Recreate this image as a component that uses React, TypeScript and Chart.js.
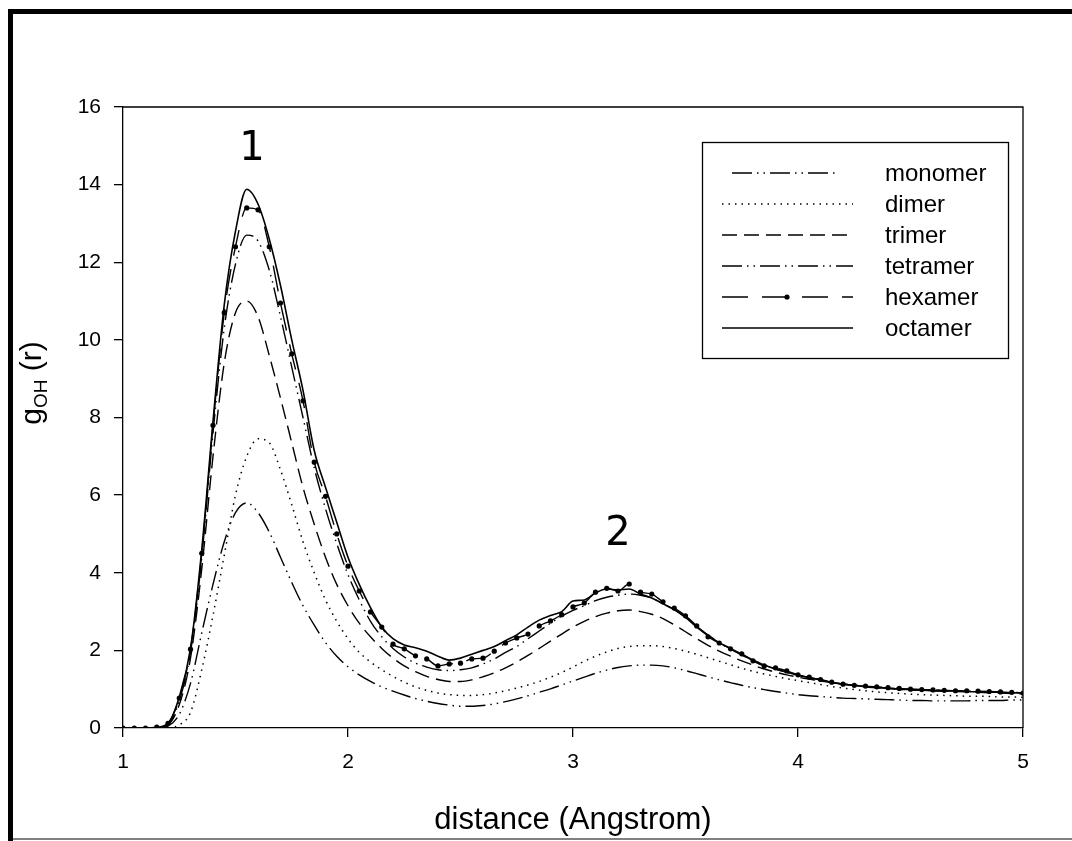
import React, { useEffect, useRef } from 'react';
import { Chart, registerables } from 'chart.js';
Chart.register(...registerables);

// distance r (Angstrom)
const R = [1.00,1.05,1.10,1.15,1.20,1.25,1.30,1.35,1.40,1.45,1.50,1.55,1.60,1.65,1.70,1.75,1.80,1.85,1.90,1.95,2.00,2.05,2.10,2.15,2.20,2.25,2.30,2.35,2.40,2.45,2.50,2.55,2.60,2.65,2.70,2.75,2.80,2.85,2.90,2.95,3.00,3.05,3.10,3.15,3.20,3.25,3.30,3.35,3.40,3.45,3.50,3.55,3.60,3.65,3.70,3.75,3.80,3.85,3.90,3.95,4.00,4.05,4.10,4.15,4.20,4.25,4.30,4.35,4.40,4.45,4.50,4.55,4.60,4.65,4.70,4.75,4.80,4.85,4.90,4.95,5.00];

const MONOMER = [0,0,0,0,0.05,0.35,1.15,2.45,3.7,4.8,5.55,5.8,5.55,5.05,4.4,3.75,3.15,2.65,2.2,1.85,1.58,1.37,1.2,1.06,0.95,0.85,0.76,0.69,0.63,0.59,0.56,0.56,0.58,0.62,0.68,0.75,0.83,0.92,1.01,1.11,1.21,1.31,1.41,1.49,1.56,1.6,1.62,1.62,1.6,1.55,1.48,1.4,1.32,1.24,1.17,1.1,1.04,0.99,0.94,0.9,0.86,0.83,0.81,0.79,0.77,0.76,0.75,0.74,0.73,0.72,0.71,0.71,0.7,0.7,0.7,0.7,0.71,0.71,0.71,0.72,0.72];

const DIMER = [0,0,0,0,0,0.08,0.4,1.5,2.9,4.45,6.0,7.0,7.45,7.35,6.65,5.75,4.8,4.0,3.3,2.75,2.3,1.95,1.7,1.5,1.33,1.18,1.06,0.97,0.9,0.86,0.84,0.84,0.86,0.9,0.96,1.03,1.11,1.2,1.31,1.43,1.57,1.72,1.85,1.96,2.05,2.1,2.12,2.12,2.1,2.05,1.98,1.9,1.81,1.72,1.63,1.54,1.46,1.39,1.33,1.27,1.22,1.17,1.12,1.07,1.03,0.99,0.96,0.93,0.91,0.89,0.87,0.86,0.85,0.84,0.83,0.82,0.82,0.81,0.8,0.8,0.79];

const TRIMER = [0,0,0,0,0.08,0.6,1.8,4.1,7.0,9.4,10.7,11.0,10.6,9.6,8.5,7.35,6.2,5.25,4.4,3.7,3.15,2.7,2.35,2.05,1.8,1.6,1.45,1.33,1.25,1.2,1.2,1.24,1.32,1.42,1.55,1.7,1.87,2.05,2.24,2.42,2.6,2.75,2.87,2.96,3.02,3.04,3.0,2.93,2.82,2.66,2.48,2.3,2.13,1.98,1.85,1.73,1.62,1.52,1.44,1.37,1.31,1.26,1.21,1.17,1.13,1.1,1.07,1.04,1.02,1.0,0.98,0.97,0.96,0.95,0.94,0.93,0.92,0.91,0.9,0.89,0.88];

const TETRAMER = [0,0,0,0,0.08,0.7,1.95,4.4,7.6,10.3,11.95,12.7,12.55,11.8,10.6,9.3,8.0,6.7,5.65,4.75,3.95,3.3,2.75,2.35,2.05,1.83,1.67,1.57,1.5,1.48,1.5,1.55,1.65,1.78,1.95,2.1,2.3,2.5,2.7,2.88,3.03,3.15,3.28,3.37,3.42,3.45,3.42,3.35,3.2,3.05,2.85,2.62,2.4,2.2,2.03,1.88,1.75,1.62,1.52,1.44,1.36,1.3,1.24,1.18,1.13,1.1,1.07,1.05,1.03,1.01,1.0,0.99,0.98,0.97,0.96,0.95,0.94,0.93,0.92,0.91,0.9];

const HEXAMER = [0,0,0,0.02,0.12,0.77,2.03,4.5,7.8,10.7,12.4,13.4,13.35,12.4,10.95,9.64,8.43,6.85,5.97,5.0,4.17,3.53,2.99,2.6,2.16,2.04,1.86,1.78,1.6,1.65,1.67,1.78,1.8,1.98,2.19,2.32,2.42,2.63,2.76,2.92,3.12,3.22,3.5,3.6,3.53,3.71,3.5,3.45,3.25,3.09,2.89,2.63,2.35,2.19,2.04,1.91,1.73,1.6,1.55,1.47,1.37,1.31,1.25,1.18,1.13,1.1,1.08,1.06,1.04,1.02,1.0,0.99,0.98,0.97,0.96,0.96,0.95,0.94,0.93,0.92,0.9];

const OCTAMER = [0,0,0,0.02,0.12,0.8,2.05,4.6,7.9,10.9,12.8,13.88,13.5,12.6,11.4,10.0,8.7,7.15,6.2,5.3,4.4,3.7,3.1,2.6,2.3,2.14,2.07,1.98,1.85,1.75,1.8,1.9,2.0,2.1,2.25,2.4,2.6,2.78,2.9,3.0,3.27,3.3,3.48,3.58,3.56,3.58,3.45,3.35,3.2,3.05,2.85,2.6,2.38,2.2,2.05,1.9,1.75,1.62,1.52,1.44,1.36,1.3,1.24,1.18,1.13,1.1,1.06,1.04,1.02,1.0,0.99,0.98,0.96,0.95,0.96,0.94,0.93,0.92,0.92,0.91,0.9];

const SERIES_NAMES = ['monomer', 'dimer', 'trimer', 'tetramer', 'hexamer', 'octamer'];
const SERIES_VALUES = [MONOMER, DIMER, TRIMER, TETRAMER, HEXAMER, OCTAMER];
const X_TICKS = [1, 2, 3, 4, 5];
const Y_TICKS = [0, 2, 4, 6, 8, 10, 12, 14, 16];
const PEAK_LABELS = ['1', '2'];
const PEAK_AT = [[1.573, 14.9], [3.2, 4.97]];
const X_TITLE = 'distance (Angstrom)';

const STYLES = [
  { dash: [20, 5, 1.5, 5, 1.5, 5], width: 1.4, point: 0 },
  { dash: [1.5, 5], width: 1.5, point: 0 },
  { dash: [15, 7], width: 1.4, point: 0 },
  { dash: [20, 5, 1.5, 5, 1.5, 5], width: 1.4, point: 0 },
  { dash: [26, 14], width: 1.4, point: 2.6 },
  { dash: [], width: 1.6, point: 0 },
];

const SANS = '"Liberation Sans", Arial, sans-serif';

const decorPlugin = {
  id: 'decor',
  afterDraw(chart: any) {
    const { ctx, chartArea: a, scales } = chart;
    ctx.save();
    // outer frame
    ctx.fillStyle = '#000';
    ctx.fillRect(8, 9, 1064, 5);
    ctx.fillRect(8, 9, 5, 832);
    ctx.fillStyle = '#808080';
    ctx.fillRect(13, 838, 1059, 2);

    // plot box (top and right sides)
    ctx.strokeStyle = '#000';
    ctx.lineWidth = 1.3;
    ctx.setLineDash([]);
    ctx.beginPath();
    ctx.moveTo(a.left, a.top);
    ctx.lineTo(a.right, a.top);
    ctx.lineTo(a.right, a.bottom);
    ctx.stroke();

    // x title
    ctx.fillStyle = '#000';
    ctx.font = `31px ${SANS}`;
    ctx.textAlign = 'center';
    ctx.textBaseline = 'alphabetic';
    ctx.fillText(X_TITLE, (a.left + a.right) / 2, 829);

    // y title with subscript
    ctx.save();
    ctx.translate(41, 383);
    ctx.rotate(-Math.PI / 2);
    const mainFont = `30px ${SANS}`;
    const subFont = `19px ${SANS}`;
    ctx.font = mainFont;
    const wG = ctx.measureText('g').width;
    const wR = ctx.measureText(' (r)').width;
    ctx.font = subFont;
    const wS = ctx.measureText('OH').width;
    const x0 = -(wG + wS + wR) / 2;
    ctx.textAlign = 'left';
    ctx.font = mainFont;
    ctx.fillText('g', x0, 0);
    ctx.font = subFont;
    ctx.fillText('OH', x0 + wG, 6);
    ctx.font = mainFont;
    ctx.fillText(' (r)', x0 + wG + wS, 0);
    ctx.restore();

    // peak labels
    ctx.font = '40px "DejaVu Sans", sans-serif';
    ctx.textAlign = 'center';
    ctx.textBaseline = 'middle';
    PEAK_LABELS.forEach((t, i) => {
      ctx.fillText(t, scales.x.getPixelForValue(PEAK_AT[i][0]), scales.y.getPixelForValue(PEAK_AT[i][1]));
    });

    // legend
    const lx = 702, ly = 142, lw = 306, lh = 216;
    ctx.lineWidth = 1.3;
    ctx.strokeStyle = '#000';
    ctx.strokeRect(lx + 0.5, ly + 0.5, lw, lh);
    ctx.font = `24px ${SANS}`;
    ctx.textAlign = 'left';
    ctx.textBaseline = 'middle';
    SERIES_NAMES.forEach((name, i) => {
      const y = 173 + i * 31;
      const st = STYLES[i];
      ctx.setLineDash(st.dash);
      ctx.lineWidth = st.width;
      ctx.beginPath();
      const x1 = i === 0 ? 732 : 722;
      const x2 = i === 0 ? 838 : 853;
      ctx.moveTo(x1, y);
      ctx.lineTo(x2, y);
      ctx.stroke();
      ctx.setLineDash([]);
      if (st.point) {
        ctx.beginPath();
        ctx.arc(787, y, st.point, 0, Math.PI * 2);
        ctx.fill();
      }
      ctx.fillText(name, 885, y + 1);
    });
    ctx.restore();
  },
};

export default function App() {
  const ref = useRef<HTMLCanvasElement | null>(null);
  useEffect(() => {
    if (!ref.current) return;
    const datasets = SERIES_NAMES.map((name, i) => ({
      label: name,
      data: R.map((x, j) => ({ x, y: SERIES_VALUES[i][j] })),
      borderColor: '#000',
      backgroundColor: '#000',
      borderWidth: STYLES[i].width,
      borderDash: STYLES[i].dash,
      borderCapStyle: 'butt',
      pointRadius: STYLES[i].point,
      pointBorderWidth: 0,
      pointBackgroundColor: '#000',
      cubicInterpolationMode: 'monotone',
      fill: false,
    }));
    const chart = new Chart(ref.current, {
      type: 'line',
      data: { datasets } as any,
      options: {
        animation: false,
        responsive: false,
        devicePixelRatio: 1,
        layout: { padding: { top: 107, right: 49, left: 0, bottom: 0 } },
        plugins: { legend: { display: false }, tooltip: { enabled: false } },
        scales: {
          x: {
            type: 'linear',
            min: 1,
            max: 5,
            afterBuildTicks: (axis: any) => { axis.ticks = X_TICKS.map((v) => ({ value: v })); },
            afterFit: (axis: any) => { axis.height = 841 - 728; },
            ticks: { color: '#000', font: { family: SANS, size: 21 }, padding: 13, maxRotation: 0, callback: (v: any) => String(v) },
            grid: { drawOnChartArea: false, drawTicks: true, tickLength: 9, color: '#000', lineWidth: 1.3 },
            border: { display: true, color: '#000', width: 1.3 },
          },
          y: {
            type: 'linear',
            min: 0,
            max: 16,
            afterBuildTicks: (axis: any) => { axis.ticks = Y_TICKS.map((v) => ({ value: v })); },
            afterFit: (axis: any) => { axis.width = 123; },
            ticks: { color: '#000', font: { family: SANS, size: 21 }, padding: 13, callback: (v: any) => String(v) },
            grid: { drawOnChartArea: false, drawTicks: true, tickLength: 9, color: '#000', lineWidth: 1.3 },
            border: { display: true, color: '#000', width: 1.3 },
          },
        },
      } as any,
      plugins: [decorPlugin],
    });
    return () => chart.destroy();
  }, []);
  return (
    <div style={{ position: 'fixed', left: 0, top: 0, width: 1072, height: 841, background: '#fff' }}>
      <canvas ref={ref} width={1072} height={841} style={{ width: 1072, height: 841, display: 'block' }} />
    </div>
  );
}
